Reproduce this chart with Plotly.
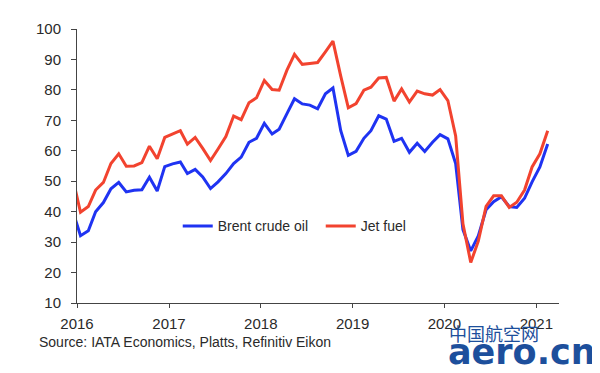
import pandas as pd
import plotly.graph_objects as go

# Monthly averages, Dec 2015 .. Feb 2021 (US$/barrel)
months = pd.date_range("2015-12-01", "2021-02-01", freq="MS") + pd.Timedelta(days=14)

brent = [40.3,
         32.1, 33.7, 40.0, 43.0, 47.5, 49.6, 46.5, 47.0, 47.2, 51.3, 46.8, 54.8,
         55.7, 56.3, 52.5, 53.9, 51.4, 47.6, 49.8, 52.5, 55.8, 57.9, 62.8, 64.1,
         69.0, 65.5, 67.1, 72.2, 77.1, 75.4, 75.0, 73.8, 78.7, 80.6, 66.6, 58.5,
         59.8, 64.1, 66.6, 71.5, 70.4, 63.1, 64.1, 59.5, 62.5, 59.8, 62.8, 65.3,
         63.9, 55.8, 34.1, 27.1, 32.0, 40.6, 43.3, 44.9, 41.7, 41.4, 44.4, 49.8,
         54.7, 62.2]

jet_fuel = [50.9,
            39.8, 41.7, 47.1, 49.6, 55.8, 59.0, 54.9, 55.0, 56.1, 61.5, 57.4, 64.4,
            65.5, 66.6, 62.2, 64.4, 60.8, 56.8, 60.6, 64.7, 71.4, 70.2, 75.8, 77.4,
            83.1, 80.1, 79.9, 86.5, 91.7, 88.4, 88.7, 89.0, 92.5, 96.0, 84.5, 74.1,
            75.5, 79.9, 80.9, 83.9, 84.1, 76.3, 80.3, 76.0, 79.6, 78.7, 78.3, 80.1,
            76.5, 64.9, 36.0, 23.3, 30.3, 41.7, 45.2, 45.2, 41.4, 43.1, 47.1, 54.7,
            59.0, 66.6]

year_ticks = ["2016-01-01", "2017-01-01", "2018-01-01", "2019-01-01", "2020-01-01", "2021-01-01"]
year_labels = ["2016", "2017", "2018", "2019", "2020", "2021"]
y_ticks = [10, 20, 30, 40, 50, 60, 70, 80, 90, 100]

FONT = "Liberation Sans, Arial, sans-serif"
TXT = "#2a2a2a"
WM = "#1d4f9c"

fig = go.Figure()
fig.add_trace(go.Scatter(x=months, y=brent, mode="lines", name="Brent crude oil",
                         line=dict(color="#1f33f2", width=3)))
fig.add_trace(go.Scatter(x=months, y=jet_fuel, mode="lines", name="Jet fuel",
                         line=dict(color="#f2432f", width=3)))

fig.update_layout(
    width=592, height=365,
    margin=dict(l=69, r=41, t=17, b=70),
    paper_bgcolor="white", plot_bgcolor="white",
    font=dict(family=FONT, size=14, color=TXT),
    showlegend=True,
    legend=dict(orientation="h", x=0.209, y=0.28, xanchor="left", yanchor="middle",
                bgcolor="rgba(0,0,0,0)", font=dict(size=14, color=TXT),
                itemwidth=30, entrywidth=98, tracegroupgap=0),
    xaxis=dict(type="date", range=["2016-01-01", "2021-04-01"],
               tickvals=year_ticks, ticktext=year_labels,
               showgrid=False, zeroline=False,
               showline=True, linecolor="#444", linewidth=1,
               ticks="outside", ticklen=4, tickcolor="#444",
               ticklabelstandoff=3,
               tickfont=dict(size=15, color=TXT)),
    yaxis=dict(range=[10, 100], tickvals=y_ticks,
               showgrid=False, zeroline=False,
               showline=True, linecolor="#444", linewidth=1,
               ticks="outside", ticklen=5, tickcolor="#444",
               ticklabelstandoff=7,
               tickfont=dict(size=15, color=TXT)),
    annotations=[
        dict(text="Source: IATA Economics, Platts, Refinitiv Eikon",
             xref="paper", yref="paper", x=-0.083, y=-0.142,
             xanchor="left", yanchor="middle", showarrow=False,
             font=dict(size=14, color=TXT)),
        dict(text="中国航空网", xref="paper", yref="paper", x=0.768, y=-0.108,
             xanchor="left", yanchor="middle", showarrow=False,
             font=dict(family="Noto Sans CJK SC", size=18, color=WM)),
        dict(text="<b>aero.cn</b>", xref="paper", yref="paper", x=1.08, y=-0.18,
             xanchor="right", yanchor="middle", showarrow=False,
             font=dict(family="DejaVu Sans, sans-serif", size=35, color=WM)),
    ],
)

fig.write_html("out.html")
